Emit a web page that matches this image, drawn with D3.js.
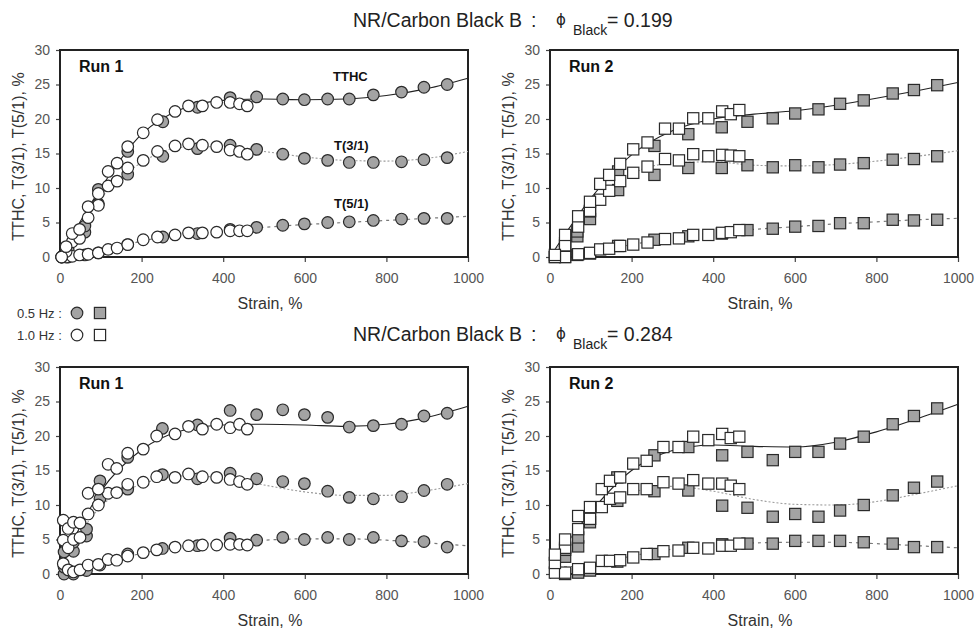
<!DOCTYPE html>
<html>
<head>
<meta charset="utf-8">
<script src="https://cdn.jsdelivr.net/npm/d3@7"></script>
<style>
  html, body { margin: 0; padding: 0; background: #fff; }
  svg { display: block; }
</style>
</head>
<body>
<svg id="chart" width="975" height="629"></svg>
<script>
// ---- axis ticks ----
const xTicks = [0, 200, 400, 600, 800, 1000];
const yTicks = [0, 5, 10, 15, 20, 25, 30];
const fitStrain = [0, 100, 200, 300, 400, 500, 600, 700, 800, 900, 1000];
const seriesNames = ["TTHC", "T(3/1)", "T(5/1)"];

// ---- phi_Black = 0.199, Run 1 (circles) ----
const a_slowStrain = [20, 61, 94, 166, 252, 337, 417, 482, 546, 599, 656, 709, 768, 837, 892, 949];
const a_slowTTHC   = [1.0, 4.5, 9.8, 15.3, 19.6, 21.7, 23.1, 23.2, 22.9, 22.8, 22.9, 22.9, 23.5, 23.9, 24.6, 25.0];
const a_slowT31    = [0.5, 3.6, 7.7, 12.0, 14.6, 15.7, 16.2, 15.6, 14.9, 14.3, 14.0, 13.7, 13.7, 13.8, 14.1, 14.4];
const a_slowT51    = [0, 0.3, 0.6, 1.8, 2.9, 3.4, 4.0, 4.3, 4.6, 4.8, 5.0, 5.1, 5.3, 5.5, 5.6, 5.6];
const a_fastStrain = [4, 15, 30, 48, 69, 94, 118, 140, 166, 204, 239, 282, 315, 349, 384, 417, 440, 459];
const a_fastTTHC   = [0, 1.5, 3.4, 4.0, 7.3, 9.2, 12.4, 13.6, 16.0, 18.0, 19.9, 21.1, 21.9, 21.9, 22.4, 22.4, 22.2, 21.9];
const a_fastT31    = [0, 0.8, 2.2, 2.7, 5.7, 7.5, 10.3, 11.0, 12.9, 14.0, 15.3, 16.1, 16.4, 16.2, 16.0, 15.5, 15.3, 14.9];
const a_fastT51    = [0, 0, 0.1, 0.3, 0.4, 0.6, 1.1, 1.3, 1.8, 2.5, 2.9, 3.2, 3.5, 3.5, 3.6, 3.8, 3.8, 3.8];
const a_fitTTHC    = [0, 10.0, 17.8, 21.5, 22.7, 22.9, 22.8, 22.9, 23.4, 24.4, 25.9];
const a_fitT31     = [0, 8.5, 13.7, 15.9, 16.0, 15.3, 14.5, 14.0, 13.9, 14.3, 15.3];
const a_fitT51     = [0, 0.7, 2.3, 3.3, 3.8, 4.3, 4.7, 5.0, 5.3, 5.6, 5.9];

// ---- phi_Black = 0.199, Run 2 (squares) ----
const b_slowStrain = [37, 67, 98, 167, 256, 339, 421, 484, 546, 601, 658, 711, 769, 840, 892, 949];
const b_slowTTHC   = [2.0, 3.7, 6.6, 12.4, 16.1, 17.8, 18.8, 19.6, 20.1, 20.8, 21.4, 22.2, 22.7, 23.7, 24.2, 24.9];
const b_slowT31    = [1.5, 3.0, 5.5, 9.7, 11.9, 12.9, 12.9, 13.3, 13.0, 13.3, 13.0, 13.4, 13.6, 14.1, 14.2, 14.6];
const b_slowT51    = [0, 0.3, 0.5, 1.6, 2.5, 3.0, 3.4, 3.9, 4.1, 4.4, 4.5, 4.9, 4.9, 5.4, 5.3, 5.4];
const b_fastStrain = [12, 37, 69, 98, 123, 145, 172, 204, 239, 282, 316, 351, 388, 422, 443, 464];
const b_fastTTHC   = [0.3, 3.2, 5.9, 8.0, 10.6, 11.9, 13.5, 15.6, 16.6, 18.6, 18.6, 20.1, 20.1, 21.1, 20.7, 21.3];
const b_fastT31    = [0, 1.7, 4.4, 6.7, 8.3, 9.6, 11.0, 12.2, 13.1, 14.2, 14.0, 14.9, 14.6, 14.8, 14.7, 14.6];
const b_fastT51    = [0, 0, 0.4, 0.6, 1.1, 1.2, 1.6, 1.8, 2.1, 2.6, 2.7, 3.2, 3.2, 3.5, 3.6, 3.9];
const b_fitTTHC    = [0, 8.5, 14.8, 18.3, 20.0, 20.7, 21.2, 22.0, 23.0, 24.1, 25.3];
const b_fitT31     = [0, 7.2, 12.0, 13.6, 13.8, 13.3, 13.2, 13.4, 13.9, 14.6, 15.4];
const b_fitT51     = [0, 0.7, 1.8, 2.8, 3.5, 4.0, 4.4, 4.8, 5.1, 5.4, 5.6];

// ---- phi_Black = 0.284, Run 1 (circles) ----
const c_slowStrain = [10, 33, 65, 98, 166, 251, 337, 417, 482, 546, 599, 656, 709, 768, 837, 892, 949];
const c_slowTTHC   = [3.2, 4.6, 6.5, 13.5, 16.9, 21.1, 21.6, 23.7, 23.1, 23.8, 23.1, 22.7, 21.3, 21.5, 21.7, 22.9, 23.3];
const c_slowT31    = [1.0, 3.3, 5.5, 10.9, 12.3, 14.4, 13.8, 14.6, 13.8, 13.4, 13.1, 12.0, 11.1, 10.9, 11.2, 12.1, 13.0];
const c_slowT51    = [0, 0, 0.5, 1.3, 2.9, 3.7, 4.1, 5.2, 4.9, 5.3, 5.0, 5.3, 5.0, 5.3, 4.8, 4.7, 3.9];
const c_fastStrain = [8, 20, 33, 49, 69, 94, 118, 139, 166, 204, 237, 282, 315, 349, 384, 417, 440, 459];
const c_fastTTHC   = [7.8, 6.6, 7.5, 7.4, 11.7, 12.3, 15.9, 15.3, 17.5, 18.1, 20.0, 20.3, 21.4, 21.0, 21.7, 21.2, 21.7, 21.0];
const c_fastT31    = [4.9, 3.8, 5.0, 5.3, 8.7, 10.0, 11.7, 11.8, 13.0, 13.3, 14.1, 14.0, 14.5, 14.1, 14.0, 13.7, 13.4, 13.0];
const c_fastT51    = [1.5, 0.6, 0.3, 0.6, 1.3, 1.4, 2.1, 2.0, 2.6, 3.1, 3.5, 3.9, 4.1, 4.2, 4.2, 4.3, 4.3, 4.2];
const c_fitTTHC    = [1.0, 12.0, 18.0, 20.8, 21.6, 21.7, 21.6, 21.4, 21.7, 22.7, 24.3];
const c_fitT31     = [1.0, 9.8, 13.0, 14.2, 14.0, 12.9, 11.9, 11.4, 11.4, 12.1, 13.1];
const c_fitT51     = [0, 1.3, 3.0, 3.9, 4.5, 4.9, 5.1, 5.1, 4.9, 4.5, 4.1];

// ---- phi_Black = 0.284, Run 2 (squares) ----
const d_slowStrain = [37, 69, 98, 165, 256, 339, 422, 484, 546, 601, 658, 711, 769, 840, 892, 949];
const d_slowTTHC   = [3.5, 5.3, 8.0, 14.0, 17.2, 18.4, 17.2, 17.7, 16.5, 17.7, 17.7, 18.9, 19.9, 21.7, 22.9, 24.0];
const d_slowT31    = [2.5, 4.0, 7.5, 10.6, 12.0, 12.1, 9.9, 9.6, 8.3, 8.7, 8.3, 9.2, 10.0, 11.4, 12.5, 13.4];
const d_slowT51    = [0, 0.2, 0.5, 1.8, 2.9, 3.8, 4.3, 4.4, 4.4, 4.8, 4.8, 4.8, 4.6, 4.4, 3.9, 3.9];
const d_fastStrain = [12, 37, 69, 98, 127, 147, 172, 204, 237, 278, 315, 351, 388, 422, 443, 464];
const d_fastTTHC   = [2.8, 5.0, 8.4, 9.7, 12.3, 13.5, 14.0, 16.0, 16.4, 18.4, 18.4, 19.9, 19.4, 20.3, 19.7, 19.9];
const d_fastT31    = [1.6, 3.8, 6.5, 8.0, 9.7, 10.9, 11.1, 12.3, 12.3, 13.3, 13.1, 13.6, 13.1, 13.1, 12.8, 12.3];
const d_fastT51    = [0.2, 0.2, 0.7, 0.9, 1.9, 1.9, 2.0, 2.4, 2.9, 3.3, 3.4, 3.8, 3.7, 4.1, 4.1, 4.4];
const d_fitTTHC    = [1.0, 9.0, 15.0, 17.9, 18.7, 18.5, 18.4, 19.1, 20.6, 22.5, 24.6];
const d_fitT31     = [1.0, 8.5, 11.8, 12.7, 12.0, 10.8, 10.1, 10.0, 10.5, 11.6, 12.8];
const d_fitT51     = [1.0, 1.2, 2.6, 3.6, 4.2, 4.5, 4.6, 4.6, 4.4, 4.1, 3.8];

// ---- group titles ----
const groupTitles = ["0.199", "0.284"];

// ---------------------------------------------------------------
const FONT = '"Liberation Sans", Arial, Helvetica, sans-serif';
const W = 408, H = 207;
const svg = d3.select("#chart");

const panels = [
  { left: 60,  top: 50,  run: "Run 1", shape: "circle", labels: true,
    strain: [a_slowStrain, a_fastStrain],
    slow: [a_slowTTHC, a_slowT31, a_slowT51], fast: [a_fastTTHC, a_fastT31, a_fastT51],
    fit: [a_fitTTHC, a_fitT31, a_fitT51] },
  { left: 550, top: 50,  run: "Run 2", shape: "square", labels: false,
    strain: [b_slowStrain, b_fastStrain],
    slow: [b_slowTTHC, b_slowT31, b_slowT51], fast: [b_fastTTHC, b_fastT31, b_fastT51],
    fit: [b_fitTTHC, b_fitT31, b_fitT51] },
  { left: 60,  top: 367, run: "Run 1", shape: "circle", labels: false,
    strain: [c_slowStrain, c_fastStrain],
    slow: [c_slowTTHC, c_slowT31, c_slowT51], fast: [c_fastTTHC, c_fastT31, c_fastT51],
    fit: [c_fitTTHC, c_fitT31, c_fitT51] },
  { left: 550, top: 367, run: "Run 2", shape: "square", labels: false,
    strain: [d_slowStrain, d_fastStrain],
    slow: [d_slowTTHC, d_slowT31, d_slowT51], fast: [d_fastTTHC, d_fastT31, d_fastT51],
    fit: [d_fitTTHC, d_fitT31, d_fitT51] }
];

// line styles: TTHC solid, T(3/1) fine dots, T(5/1) short dashes
const fitStyles = [
  { stroke: "#222", width: 1.1, dash: null },
  { stroke: "#9a9a9a", width: 1.1, dash: "2,2" },
  { stroke: "#7a7a7a", width: 1.2, dash: "3,4" }
];

const R = 5.8, S = 11.2;

function drawMarker(g, shape, cx, cy, filled) {
  const fill = filled ? "#a3a3a3" : "#fff";
  if (shape === "circle") {
    g.append("circle").attr("cx", cx).attr("cy", cy).attr("r", R)
      .attr("fill", fill).attr("stroke", "#2a2a2a").attr("stroke-width", 1.2);
  } else {
    g.append("rect").attr("x", cx - S / 2).attr("y", cy - S / 2)
      .attr("width", S).attr("height", S)
      .attr("fill", fill).attr("stroke", "#2a2a2a").attr("stroke-width", 1.2);
  }
}

panels.forEach(p => {
  const g = svg.append("g").attr("transform", `translate(${p.left},${p.top})`);
  const x = d3.scaleLinear().domain([0, 1000]).range([0, W]);
  const y = d3.scaleLinear().domain([0, 30]).range([H, 0]);

  const xa = g.append("g").attr("transform", `translate(0,${H})`)
    .call(d3.axisBottom(x).tickValues(xTicks).tickFormat(d3.format("d")).tickSize(5).tickPadding(11));
  const ya = g.append("g")
    .call(d3.axisLeft(y).tickValues(yTicks).tickFormat(d3.format("d")).tickSize(4).tickPadding(6));
  [xa, ya].forEach(a => {
    a.select(".domain").remove();
    a.selectAll("line").attr("stroke", "#444").attr("stroke-width", 1.2);
    a.selectAll("text").attr("font-family", FONT).attr("font-size", 14).attr("fill", "#555");
  });

  // plot frame
  g.append("rect").attr("width", W).attr("height", H)
    .attr("fill", "none").attr("stroke", "#222").attr("stroke-width", 2);

  // fitted trend lines
  p.fit.forEach((vals, i) => {
    const st = fitStyles[i];
    const line = d3.line().x((d, k) => x(fitStrain[k])).y(d => y(d)).curve(d3.curveMonotoneX);
    const path = g.append("path").datum(vals).attr("d", line)
      .attr("fill", "none").attr("stroke", st.stroke).attr("stroke-width", st.width);
    if (st.dash) path.attr("stroke-dasharray", st.dash);
  });

  // 0.5 Hz (filled) underneath, 1.0 Hz (open) on top
  [2, 1, 0].forEach(i => {
    p.slow[i].forEach((v, k) => drawMarker(g, p.shape, x(p.strain[0][k]), y(v), true));
  });
  [2, 1, 0].forEach(i => {
    p.fast[i].forEach((v, k) => drawMarker(g, p.shape, x(p.strain[1][k]), y(v), false));
  });

  // run label
  g.append("text").attr("x", 19).attr("y", 22)
    .attr("font-family", FONT).attr("font-size", 16).attr("font-weight", "bold")
    .attr("fill", "#111").text(p.run);

  // series labels
  if (p.labels) {
    const lab = [[273, 31], [274, 100], [274, 158]];
    seriesNames.forEach((n, i) => {
      g.append("text").attr("x", lab[i][0]).attr("y", lab[i][1])
        .attr("font-family", FONT).attr("font-size", 13).attr("font-weight", "bold")
        .attr("fill", "#111").text(n);
    });
  }

  // axis titles
  g.append("text").attr("x", W / 2 + 6).attr("y", H + 52).attr("text-anchor", "middle")
    .attr("font-family", FONT).attr("font-size", 16).attr("fill", "#333").text("Strain, %");
  g.append("text").attr("transform", `translate(${-36},${H / 2 + 3}) rotate(-90)`)
    .attr("text-anchor", "middle")
    .attr("font-family", FONT).attr("font-size", 16).attr("fill", "#333")
    .text("TTHC, T(3/1), T(5/1), %");
});

// group titles
[27, 341].forEach((base, i) => {
  const t = svg.append("g").attr("font-family", FONT).attr("fill", "#222");
  t.append("text").attr("x", 353).attr("y", base).attr("font-size", 19.5).text("NR/Carbon Black B");
  t.append("text").attr("x", 531).attr("y", base).attr("font-size", 19.5).text(":");
  t.append("text").attr("x", 556).attr("y", base - 2).attr("font-size", 15)
    .attr("font-family", '"DejaVu Sans", sans-serif').text("\u03D5");
  t.append("text").attr("x", 573).attr("y", base + 8).attr("font-size", 14).text("Black");
  t.append("text").attr("x", 607).attr("y", base).attr("font-size", 19.5).text("= " + groupTitles[i]);
});

// frequency legend
const leg = svg.append("g").attr("font-family", FONT).attr("font-size", 13).attr("fill", "#333");
[["0.5 Hz :", true, 313], ["1.0 Hz :", false, 335]].forEach(([txt, filled, cy]) => {
  leg.append("text").attr("x", 17).attr("y", cy + 4.5).text(txt);
  drawMarker(leg, "circle", 77, cy, filled);
  drawMarker(leg, "square", 100, cy, filled);
});
</script>
</body>
</html>
